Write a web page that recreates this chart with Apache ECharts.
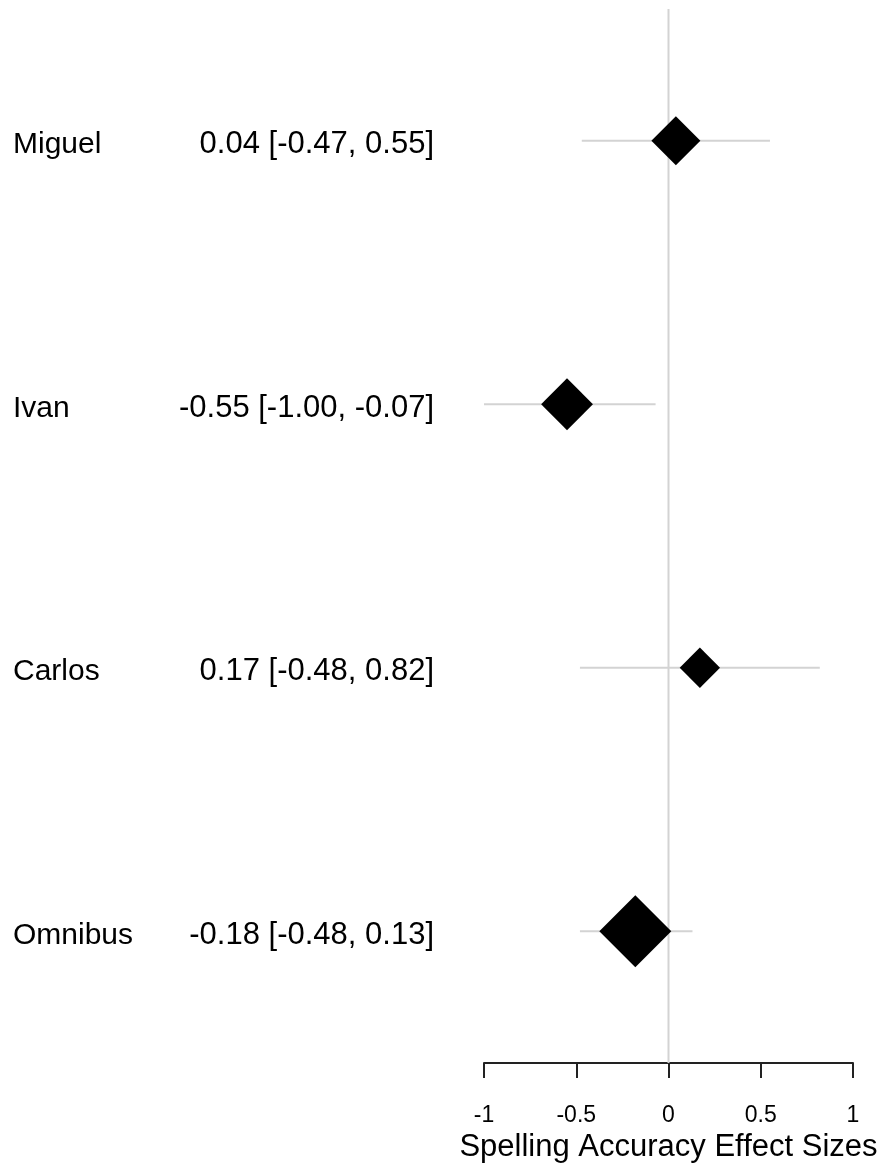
<!DOCTYPE html>
<html>
<head>
<meta charset="utf-8">
<script src="https://cdn.jsdelivr.net/npm/echarts@6/dist/echarts.min.js"></script>
<style>
  html, body { margin: 0; padding: 0; background: #ffffff; }
  #chart { width: 883px; height: 1168px; }
</style>
</head>
<body>
<div id="chart"></div>
<script>
// Forest plot: spelling accuracy effect sizes per participant plus the omnibus estimate
const names = ['Miguel', 'Ivan', 'Carlos', 'Omnibus'];
const estimates = [0.04, -0.55, 0.17, -0.18];
const lower = [-0.47, -1.00, -0.48, -0.48];
const upper = [0.55, -0.07, 0.82, 0.13];
// relative weight of each estimate (drives the marker size)
const weights = [0.68, 0.72, 0.56, 1.0];
const xTicks = [-1, -0.5, 0, 0.5, 1];
const nullEffect = 0;
const axisTitle = 'Spelling Accuracy Effect Sizes';

const FONT = '"Liberation Sans", Arial, sans-serif';
const MAX_MARK = 72;

const statLabels = names.map((n, i) =>
  estimates[i].toFixed(2) + ' [' + lower[i].toFixed(2) + ', ' + upper[i].toFixed(2) + ']'
);

const ciData = names.map((n, i) => [lower[i], upper[i], i]);
const pointData = names.map((n, i) => ({
  value: [estimates[i], i],
  symbolSize: weights[i] * MAX_MARK
}));

// row labels sit slightly below the row centre line
const rowLabelStyle = {
  verticalAlign: 'top',
  lineHeight: 8,
  fontFamily: FONT,
  color: '#000'
};

const chart = echarts.init(document.getElementById('chart'), null, { renderer: 'canvas' });

chart.setOption({
  backgroundColor: '#ffffff',
  animation: false,
  grid: {
    left: 484,
    right: 30,
    top: 9,
    bottom: 105,
    containLabel: false,
    outerBoundsMode: 'none'
  },
  xAxis: {
    type: 'value',
    min: xTicks[0],
    max: xTicks[xTicks.length - 1],
    interval: xTicks[1] - xTicks[0],
    name: axisTitle,
    nameLocation: 'middle',
    nameGap: 63,
    nameTextStyle: { fontFamily: FONT, fontSize: 31, color: '#000' },
    axisLine: { show: true, onZero: false, lineStyle: { color: '#222', width: 2 } },
    axisTick: { show: true, inside: false, length: 15, lineStyle: { color: '#222', width: 2 } },
    axisLabel: {
      margin: 41,
      fontFamily: FONT,
      fontSize: 23,
      color: '#000',
      formatter: v => String(v)
    },
    splitLine: { show: false }
  },
  yAxis: [
    {
      type: 'category',
      data: names,
      inverse: true,
      position: 'left',
      axisLine: { show: false },
      axisTick: { show: false },
      splitLine: { show: false },
      axisLabel: Object.assign({ align: 'left', margin: 471, fontSize: 30 }, rowLabelStyle)
    },
    {
      type: 'category',
      data: statLabels,
      inverse: true,
      position: 'left',
      offset: 0,
      axisLine: { show: false },
      axisTick: { show: false },
      splitLine: { show: false },
      axisLabel: Object.assign({ align: 'right', margin: 50, fontSize: 31 }, rowLabelStyle)
    }
  ],
  series: [
    {
      // vertical reference line at the null effect, spanning the plot height
      type: 'custom',
      yAxisIndex: 0,
      z: 1,
      silent: true,
      data: [[nullEffect, 0]],
      encode: { x: 0, y: 1 },
      renderItem: function (params, api) {
        const p = api.coord([api.value(0), api.value(1)]);
        const cs = params.coordSys;
        return {
          type: 'line',
          shape: { x1: p[0], y1: cs.y, x2: p[0], y2: cs.y + cs.height },
          style: { stroke: '#d3d3d3', lineWidth: 2 }
        };
      }
    },
    {
      // confidence intervals
      type: 'custom',
      yAxisIndex: 0,
      z: 2,
      silent: true,
      data: ciData,
      encode: { x: [0, 1], y: 2 },
      renderItem: function (params, api) {
        const a = api.coord([api.value(0), api.value(2)]);
        const b = api.coord([api.value(1), api.value(2)]);
        return {
          type: 'line',
          shape: { x1: a[0], y1: a[1], x2: b[0], y2: b[1] },
          style: { stroke: '#d3d3d3', lineWidth: 2 }
        };
      }
    },
    {
      // point estimates
      type: 'scatter',
      yAxisIndex: 0,
      z: 3,
      symbol: 'diamond',
      itemStyle: { color: '#000000', opacity: 1 },
      data: pointData
    }
  ]
});
</script>
</body>
</html>
